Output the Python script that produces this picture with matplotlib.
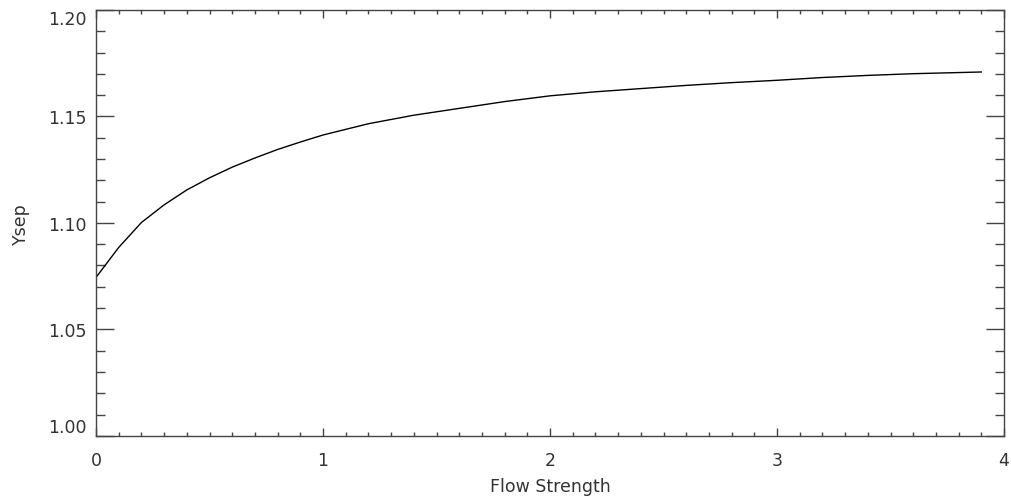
import matplotlib
matplotlib.use("Agg")
import matplotlib.pyplot as plt
from matplotlib.ticker import MultipleLocator

# separatrix position vs flow strength
flow = [0.0, 0.1, 0.2, 0.3, 0.4, 0.5, 0.6, 0.7, 0.8, 0.9, 1.0, 1.2, 1.4,
        1.6, 1.8, 2.0, 2.2, 2.4, 2.6, 2.8, 3.0, 3.2, 3.4, 3.6, 3.9]
ysep = [1.0744, 1.0885, 1.1002, 1.1085, 1.1155, 1.1212, 1.1262, 1.1305,
        1.1345, 1.1380, 1.1413, 1.1466, 1.1506, 1.1538, 1.1570, 1.1597,
        1.1616, 1.1631, 1.1646, 1.1659, 1.1670, 1.1683, 1.1693, 1.1701,
        1.1709]

xticks = [0, 1, 2, 3, 4]
yticks = [1.00, 1.05, 1.10, 1.15, 1.20]
ylabels = ["1.00", "1.05", "1.10", "1.15", "1.20"]

plt.rcParams['font.family'] = ['DejaVu Sans']
txt = '#333333'
fig = plt.figure(figsize=(10.12, 5.02), dpi=100)
ax = fig.add_axes([0.0949, 0.1299, 0.8972, 0.8481])

ax.plot(flow, ysep, color='black', lw=1.0)

ax.set_xlim(0, 4)
ax.set_ylim(1.0, 1.2)
ax.set_xticks(xticks)
ax.set_yticks(yticks)
ax.set_yticklabels(ylabels)
ax.xaxis.set_minor_locator(MultipleLocator(0.1))
ax.yaxis.set_minor_locator(MultipleLocator(0.01))

ax.tick_params(which='both', direction='in', top=True, right=True,
               colors='#444444', labelcolor=txt, labelsize=12.5, width=1)
ax.tick_params(axis='x', which='major', length=6, pad=11)
ax.tick_params(axis='x', which='minor', length=3)
ax.tick_params(axis='y', which='major', length=13, pad=7)
ax.tick_params(axis='y', which='minor', length=6.5)

# IDL style: end labels nudged inside the axis range
ylab = ax.get_yticklabels()
ylab[0].set_va('bottom')
ylab[-1].set_va('top')

for s in ax.spines.values():
    s.set_color('#444444')
    s.set_linewidth(1)

ax.set_xlabel('Flow Strength', fontsize=12.5, color=txt, labelpad=6)
ax.set_ylabel('Ysep', fontsize=12.5, color=txt, labelpad=13)

fig.savefig('out.png', dpi=100)
